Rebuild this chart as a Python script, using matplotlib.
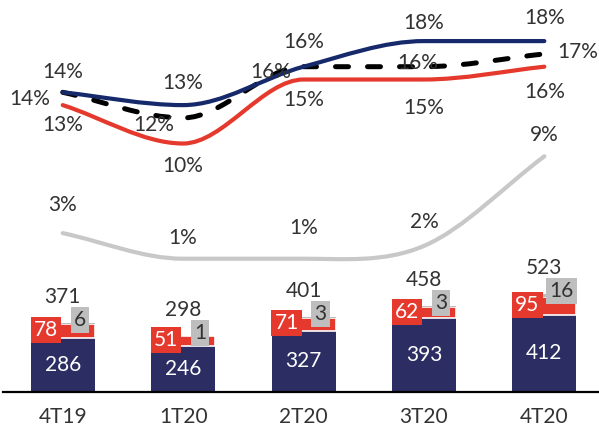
import numpy as np
import matplotlib.pyplot as plt
from matplotlib.path import Path
from matplotlib.patches import PathPatch

plt.rcParams['font.family'] = ['Lato', 'DejaVu Sans']

# quarterly results (bars) and margins (lines)
quarters = ['4T19', '1T20', '2T20', '3T20', '4T20']
base = [286, 246, 327, 393, 412]
mid = [78, 51, 71, 62, 95]
top = [6, 1, 3, 3, 16]
total = [371, 298, 401, 458, 523]

pct_navy = [14, 13, 16, 18, 18]
pct_total = [14, 12, 16, 16, 17]
pct_red = [13, 10, 15, 15, 16]
pct_gray = [3, 1, 1, 2, 9]

NAVY_BAR = '#2b2d63'
NAVY_LINE = '#15296b'
RED = '#e5392d'
GRAY_BOX = '#bebebe'
GRAY_LINE = '#c8c8c8'
TXT = '#333333'


def smooth_path(x, y):
    # cubic bezier through the points, flat at local extremes
    x = np.asarray(x, float)
    y = np.asarray(y, float)
    d = np.diff(y) / np.diff(x)
    m = np.zeros_like(y)
    m[0], m[-1] = d[0], d[-1]
    for k in range(1, len(y) - 1):
        m[k] = 0 if d[k - 1] * d[k] <= 0 else (d[k - 1] + d[k]) / 2
    verts = [(x[0], y[0])]
    codes = [Path.MOVETO]
    for k in range(len(x) - 1):
        h = (x[k + 1] - x[k]) / 3
        verts += [(x[k] + h, y[k] + m[k] * h),
                  (x[k + 1] - h, y[k + 1] - m[k + 1] * h),
                  (x[k + 1], y[k + 1])]
        codes += [Path.CURVE4] * 3
    return Path(verts, codes)


fig = plt.figure(figsize=(5.99, 4.29), dpi=100)
ax = fig.add_axes([0, 0, 1, 1])
x = np.arange(len(quarters))
w = 0.532

base = np.array(base)
mid = np.array(mid)
top = np.array(top)

ax.bar(x, base, w, color=NAVY_BAR, zorder=2)
ax.bar(x, mid, w, bottom=base, color=RED, edgecolor='white', linewidth=1.2, zorder=2)
ax.bar(x, top, w, bottom=base + mid, color=GRAY_BOX, zorder=2)

for i in range(len(x)):
    ax.text(x[i], base[i] / 2, str(base[i]), color='white', fontsize=15,
            ha='center', va='center', zorder=4)
    ax.annotate(str(mid[i]), (x[i], base[i] + mid[i] / 2), xytext=(-17, 1),
                textcoords='offset pixels', color='white', fontsize=15,
                ha='center', va='center', zorder=4,
                bbox=dict(boxstyle='square,pad=0.15', fc=RED, ec='none'))
    ax.annotate(str(top[i]), (x[i], base[i] + mid[i] + top[i]), xytext=(17, 3),
                textcoords='offset pixels', color=TXT, fontsize=15,
                ha='center', va='center', zorder=4,
                bbox=dict(boxstyle='square,pad=0.15', fc=GRAY_BOX, ec='none'))
    ax.annotate(str(total[i]), (x[i], base[i] + mid[i] + top[i]), xytext=(0, 26),
                textcoords='offset pixels', color=TXT, fontsize=15,
                ha='center', va='center')
    ax.annotate(quarters[i], (x[i], 0), xytext=(0, -25),
                textcoords='offset pixels', color=TXT, fontsize=15,
                ha='center', va='center')

ax.axhline(0, xmin=0.005, xmax=1, color='black', lw=1.6, zorder=3)
ax.set_xlim(-0.521, 4.454)
ax.set_ylim(-198, 2096)
ax.axis('off')

# margin lines on their own scale
ax2 = ax.twinx()
ax2.set_ylim(-12.30, 21.21)
ax2.axis('off')

series = [
    (pct_gray, GRAY_LINE, '-', [(0, 28), (0, 21), (0, 31), (0, 24), (0, 21)]),
    (pct_red, RED, '-', [(0, -20), (0, -22), (0, -20), (0, -28), (0, -25)]),
    (pct_total, 'black', (0, (2.6, 3.8)), [(-33, -7), (-29, -7), (-33, -5), (-6, 4), (33, 2)]),
    (pct_navy, NAVY_LINE, '-', [(0, 20), (0, 22), (0, 25), (0, 18), (0, 23)]),
]
for vals, color, ls, offs in series:
    lw = 3.6 if color == 'black' else 3.0
    ax2.add_patch(PathPatch(smooth_path(x, vals), fill=False, edgecolor=color,
                            lw=lw, ls=ls, capstyle='round', zorder=3))
    for i, v in enumerate(vals):
        ax2.annotate(f'{v}%', (x[i], v), xytext=offs[i], textcoords='offset pixels',
                     color=TXT, fontsize=15, ha='center', va='center', zorder=5)

fig.savefig('out.png', dpi=100)
